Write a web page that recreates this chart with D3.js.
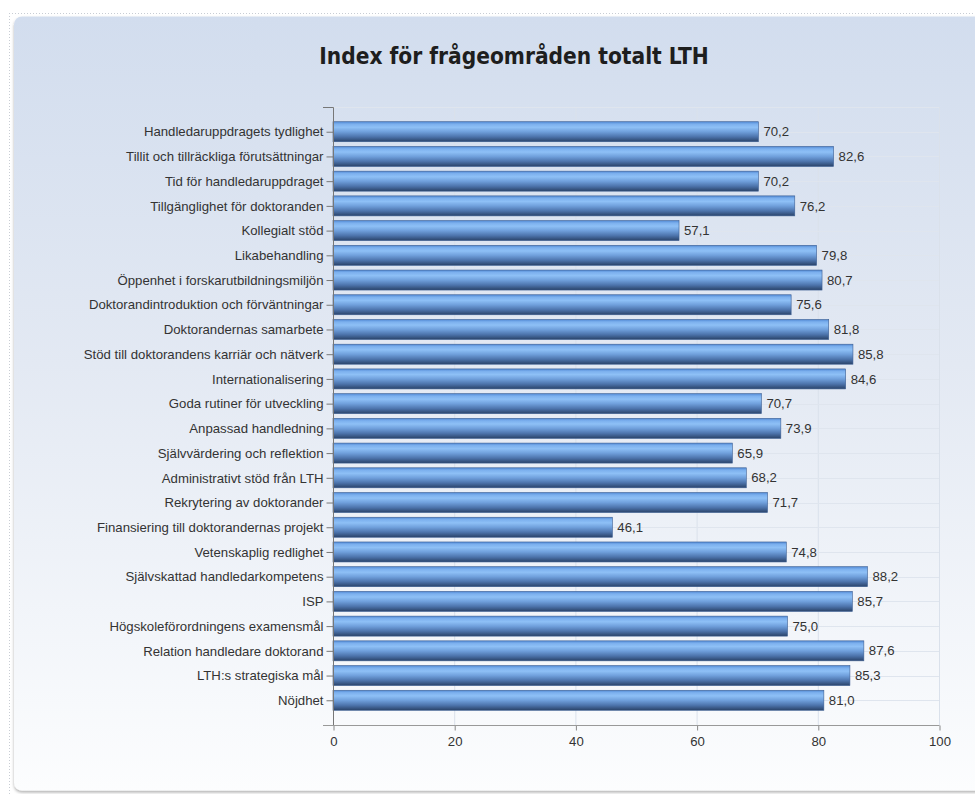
<!DOCTYPE html>
<html>
<head>
<meta charset="utf-8">
<script src="https://cdn.jsdelivr.net/npm/d3@7"></script>
<style>
  html, body { margin: 0; padding: 0; background: #ffffff; }
  svg { display: block; }
</style>
</head>
<body>
<svg id="chart" width="975" height="794"></svg>
<script>
const titleText = "Index för frågeområden totalt LTH";
const categories = [
  "Handledaruppdragets tydlighet",
  "Tillit och tillräckliga förutsättningar",
  "Tid för handledaruppdraget",
  "Tillgänglighet för doktoranden",
  "Kollegialt stöd",
  "Likabehandling",
  "Öppenhet i forskarutbildningsmiljön",
  "Doktorandintroduktion och förväntningar",
  "Doktorandernas samarbete",
  "Stöd till doktorandens karriär och nätverk",
  "Internationalisering",
  "Goda rutiner för utveckling",
  "Anpassad handledning",
  "Självvärdering och reflektion",
  "Administrativt stöd från LTH",
  "Rekrytering av doktorander",
  "Finansiering till doktorandernas projekt",
  "Vetenskaplig redlighet",
  "Självskattad handledarkompetens",
  "ISP",
  "Högskoleförordningens examensmål",
  "Relation handledare doktorand",
  "LTH:s strategiska mål",
  "Nöjdhet"
];
const values = [70.2, 82.6, 70.2, 76.2, 57.1, 79.8, 80.7, 75.6, 81.8, 85.8, 84.6, 70.7,
                73.9, 65.9, 68.2, 71.7, 46.1, 74.8, 88.2, 85.7, 75.0, 87.6, 85.3, 81.0];
const xTicks = [0, 20, 40, 60, 80, 100];

const svg = d3.select("#chart");
const defs = svg.append("defs");
const labelFont = "'Liberation Sans', Arial, sans-serif";
const labelSize = 13.2;

// panel background gradient
const bg = defs.append("linearGradient").attr("id", "bgGrad")
  .attr("x1", 0).attr("y1", 0).attr("x2", 0).attr("y2", 1);
bg.append("stop").attr("offset", "0%").attr("stop-color", "#d2ddee");
bg.append("stop").attr("offset", "45%").attr("stop-color", "#e3e9f3");
bg.append("stop").attr("offset", "100%").attr("stop-color", "#fcfdfe");

// bar gradient
const bg2 = defs.append("linearGradient").attr("id", "barGrad")
  .attr("x1", 0).attr("y1", 0).attr("x2", 0).attr("y2", 1);
[["0%", "#5189d4"], ["12%", "#7cb0ee"], ["28%", "#8ec0f6"], ["50%", "#70a0dc"],
 ["75%", "#4d74ac"], ["100%", "#2a4369"]].forEach(([o, c]) =>
  bg2.append("stop").attr("offset", o).attr("stop-color", c));

const shadow = defs.append("filter").attr("id", "shadow")
  .attr("x", "-5%").attr("y", "-5%").attr("width", "110%").attr("height", "110%");
shadow.append("feDropShadow").attr("dx", 0).attr("dy", 2).attr("stdDeviation", 1.5)
  .attr("flood-color", "#000").attr("flood-opacity", 0.3);

// outer dotted frame
svg.append("line").attr("x1", 9).attr("x2", 975).attr("y1", 13.5).attr("y2", 13.5)
  .attr("stroke", "#c8cdd4").attr("stroke-dasharray", "1,2");
svg.append("line").attr("x1", 9.5).attr("x2", 9.5).attr("y1", 13).attr("y2", 794)
  .attr("stroke", "#c8cdd4").attr("stroke-dasharray", "1,2");

// panel
svg.append("rect").attr("x", 14).attr("y", 16.5).attr("width", 975).attr("height", 774)
  .attr("rx", 8).attr("fill", "url(#bgGrad)").attr("filter", "url(#shadow)");

// title
svg.append("text").attr("x", 514).attr("y", 64).attr("text-anchor", "middle")
  .attr("font-family", "'DejaVu Sans Condensed', 'DejaVu Sans', sans-serif")
  .attr("font-weight", "bold").attr("font-size", 22.5).attr("fill", "#1e1e1e")
  .text(titleText);

const margin = { left: 333, right: 939, top: 107, bottom: 725 };
const x = d3.scaleLinear().domain([0, 100]).range([margin.left, margin.right]);
const y = d3.scalePoint().domain(categories).range([margin.top, margin.bottom]).padding(1);
const barH = 20;

// gridlines
const grid = svg.append("g");
grid.selectAll("line.v").data(xTicks.slice(1)).join("line")
  .attr("x1", d => x(d) + 0.5).attr("x2", d => x(d) + 0.5)
  .attr("y1", margin.top).attr("y2", margin.bottom)
  .attr("stroke", "#dae1eb").attr("stroke-width", 1);
grid.selectAll("line.h").data(categories).join("line")
  .attr("x1", margin.left).attr("x2", margin.right)
  .attr("y1", d => Math.round(y(d)) + 0.5).attr("y2", d => Math.round(y(d)) + 0.5)
  .attr("stroke", "#dfe5ee").attr("stroke-width", 1);
grid.append("line").attr("x1", margin.left).attr("x2", margin.right)
  .attr("y1", margin.top + 0.5).attr("y2", margin.top + 0.5)
  .attr("stroke", "#dfe5ee");

// bars
svg.append("g").selectAll("rect").data(values).join("rect")
  .attr("x", x(0))
  .attr("y", (d, i) => y(categories[i]) - barH / 2)
  .attr("width", d => x(d) - x(0))
  .attr("height", barH)
  .attr("fill", "url(#barGrad)")
  .attr("stroke", "#3d5f93").attr("stroke-width", 0.6);

// value labels
svg.append("g").selectAll("text").data(values).join("text")
  .attr("x", d => x(d) + 5)
  .attr("y", (d, i) => y(categories[i]))
  .attr("dy", "0.35em")
  .attr("font-family", labelFont)
  .attr("font-size", labelSize).attr("fill", "#333")
  .text(d => d3.format(".1f")(d).replace(".", ","));

// y axis
const yAxis = svg.append("g").attr("transform", `translate(${margin.left + 0.5},0)`)
  .call(d3.axisLeft(y).tickSize(7).tickPadding(3).tickSizeOuter(0));
yAxis.select(".domain").remove();
yAxis.selectAll(".tick line").attr("stroke", "#777");
yAxis.selectAll(".tick text")
  .attr("font-family", labelFont)
  .attr("font-size", labelSize).attr("fill", "#333");
svg.append("path")
  .attr("d", `M${margin.left - 10},${margin.top + 0.5}H${margin.left + 0.5}V${margin.bottom}`)
  .attr("fill", "none").attr("stroke", "#777");

// x axis
const xAxis = svg.append("g").attr("transform", `translate(0.5,${margin.bottom + 0.5})`)
  .call(d3.axisBottom(x).tickValues(xTicks).tickSize(5).tickPadding(6).tickSizeOuter(0));
xAxis.select(".domain").remove();
xAxis.selectAll(".tick line").attr("stroke", "#888");
xAxis.selectAll(".tick text")
  .attr("font-family", labelFont)
  .attr("font-size", labelSize).attr("fill", "#333");
svg.append("line").attr("x1", margin.left - 10).attr("x2", margin.right + 0.5)
  .attr("y1", margin.bottom + 0.5).attr("y2", margin.bottom + 0.5)
  .attr("stroke", "#999");
</script>
</body>
</html>
